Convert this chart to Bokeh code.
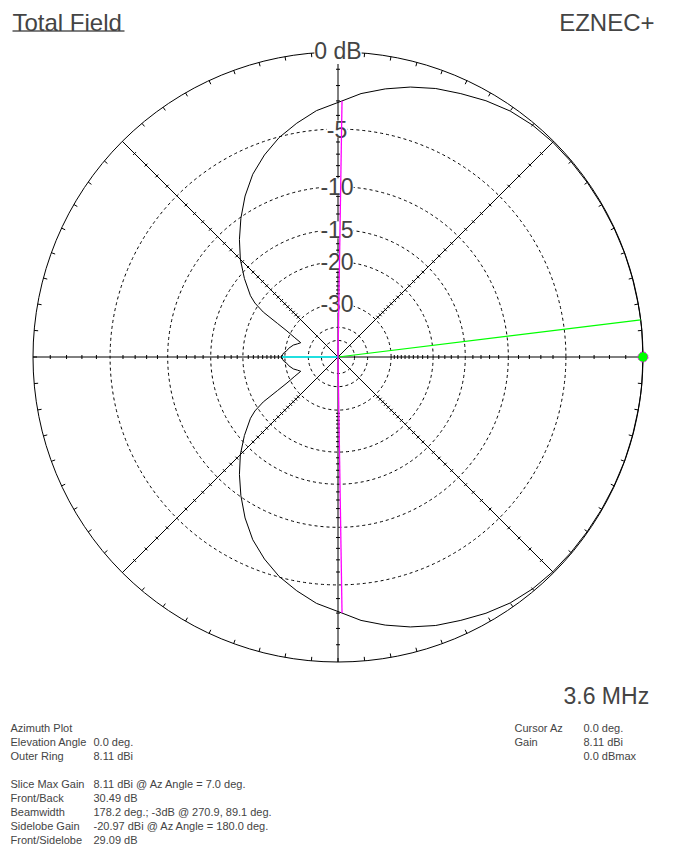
import numpy as np
from bokeh.plotting import figure
from bokeh.models import Range1d, Label
from bokeh.embed import file_html
from bokeh.resources import INLINE

# ---- azimuth pattern, total field, elevation 0 deg (gain in dBi) ----
az_deg = [0, 5, 7, 10, 15, 20, 25, 30, 35, 40, 45, 50, 55, 60, 65, 70, 75, 80, 85, 89.1,
          95, 100, 105, 110, 115, 120, 125, 130, 135, 140, 145, 147, 149, 151, 153, 156,
          159, 162, 165, 170, 173, 175, 177, 180,
          183, 185, 187, 190, 195, 198, 201, 204, 207, 209, 211, 213, 215, 220, 225, 230,
          235, 240, 245, 250, 255, 260, 265, 270.9, 275, 280, 285, 290, 295, 300, 305, 310,
          315, 320, 325, 330, 335, 340, 345, 350, 353, 355]
gain_dbi = [8.11, 8.11, 8.11, 8.10, 8.10, 8.10, 8.09, 8.08, 8.07, 8.06, 8.04, 7.98, 7.84, 7.59,
            7.28, 6.99, 6.61, 6.16, 5.66, 5.11,
            4.51, 3.81, 3.06, 2.11, 1.01, -0.39, -1.99, -3.69, -5.49, -7.59, -9.89, -11.19,
            -13.39, -17.39, -20.59, -23.89, -26.79, -25.69, -24.29, -22.90, -22.38, -21.66,
            -21.21, -20.97,
            -21.21, -21.66, -22.38, -22.90, -24.29, -25.69, -26.79, -23.89, -20.59, -17.39,
            -13.39, -11.19, -9.89, -7.59, -5.49, -3.69, -1.99, -0.39, 1.01, 2.11, 3.06, 3.81,
            4.51, 5.11, 5.66, 6.16, 6.61, 6.99, 7.28, 7.59, 7.84, 7.98, 8.04, 8.06, 8.07, 8.08,
            8.09, 8.10, 8.10, 8.10, 8.11, 8.11]

outer_ring_dbi = 8.11
max_gain_az = 7.0
max_gain_dbi = 8.11
bw_az = [89.1, 270.9]
bw_gain_dbi = [5.11, 5.11]
sidelobe_az = 180.0
sidelobe_dbi = -20.97
cursor_az = 0.0
cursor_dbi = 8.11

ring_db = [-5, -10, -15, -20, -30, -40, -50]
ring_labels = {-5: "-5", -10: "-10", -15: "-15", -20: "-20", -30: "-30"}
tick_db = [d for d in range(-1, -30, -1) if d not in ring_db]
rim_tick_deg = list(range(0, 360, 5))

left_rows = [("Azimuth Plot", ""), ("Elevation Angle", "0.0 deg."), ("Outer Ring", "8.11 dBi"),
             None,
             ("Slice Max Gain", "8.11 dBi @ Az Angle = 7.0 deg."), ("Front/Back", "30.49 dB"),
             ("Beamwidth", "178.2 deg.; -3dB @ 270.9, 89.1 deg."),
             ("Sidelobe Gain", "-20.97 dBi @ Az Angle = 180.0 deg."),
             ("Front/Sidelobe", "29.09 dB")]
right_rows = [("Cursor Az", "0.0 deg."), ("Gain", "8.11 dBi"), ("", "0.0 dBmax")]

# ---- geometry (1 data unit = 1 screen pixel, origin at plot centre) ----
W, H = 676, 864
CX, CY = 337.5, 356.5
R = 305.0
FONT = "Liberation Sans"


def radius(rel_db):
    """ARRL log-periodic radial scale: 2 dB per step of 0.89."""
    return R * 0.89 ** (-np.asarray(rel_db, dtype=float) / 2.0)


def polar(az, rel_db):
    th = np.radians(np.asarray(az, dtype=float))
    r = radius(rel_db)
    return r * np.cos(th), r * np.sin(th)


def sx(x):
    return x - CX


def sy(y):
    return CY - y


p = figure(width=W, height=H, x_range=Range1d(-CX, W - CX), y_range=Range1d(-(H - CY), CY),
           output_backend="svg", toolbar_location=None, min_border=0,
           x_axis_type=None, y_axis_type=None)
p.outline_line_color = None
p.background_fill_color = "white"
p.border_fill_color = "white"

# dashed dB rings and solid outer ring
rr = radius(ring_db)
p.circle(x=[0] * len(rr), y=[0] * len(rr), radius=list(rr), fill_color=None,
         line_color="black", line_width=1, line_dash="3 3")
p.circle(x=[0], y=[0], radius=R, fill_color=None, line_color="black", line_width=1)

# axis and diagonal spokes
spokes = np.radians([0, 45, 90, 135])
p.segment(x0=list(-R * np.cos(spokes)), y0=list(-R * np.sin(spokes)),
          x1=list(R * np.cos(spokes)), y1=list(R * np.sin(spokes)),
          line_color="black", line_width=1)

# 1 dB ticks on each spoke
tx0, ty0, tx1, ty1 = [], [], [], []
for a in range(0, 360, 45):
    th = np.radians(a)
    for d in tick_db:
        r = float(radius(d))
        cx, cy = r * np.cos(th), r * np.sin(th)
        px, py = -np.sin(th) * 2.0, np.cos(th) * 2.0
        tx0.append(cx - px); ty0.append(cy - py)
        tx1.append(cx + px); ty1.append(cy + py)
p.segment(x0=tx0, y0=ty0, x1=tx1, y1=ty1, line_color="black", line_width=1)

# 5 degree ticks on the outer ring
th = np.radians(rim_tick_deg)
p.segment(x0=list(R * np.cos(th)), y0=list(R * np.sin(th)),
          x1=list((R - 4) * np.cos(th)), y1=list((R - 4) * np.sin(th)),
          line_color="black", line_width=1)

# pattern trace
rel = np.asarray(gain_dbi) - outer_ring_dbi
px_, py_ = polar(az_deg + [az_deg[0]], list(rel) + [rel[0]])
p.line(x=list(px_), y=list(py_), line_color="black", line_width=1)

# max gain (green), sidelobe (cyan)
gx, gy = polar([max_gain_az], [max_gain_dbi - outer_ring_dbi])
p.segment(x0=[0], y0=[0], x1=list(gx), y1=list(gy), line_color="#00ff00", line_width=1.2)
cxs, cys = polar([sidelobe_az], [sidelobe_dbi - outer_ring_dbi])
p.segment(x0=[0], y0=[0], x1=list(cxs), y1=list(cys), line_color="#00ffff", line_width=1.6)

# ring labels with white boxes
labels = [Label(x=0, y=R + 1, text="0 dB", text_font=FONT, text_font_size="23px",
                text_align="center", text_baseline="middle", background_fill_color="white")]
for d, t in ring_labels.items():
    labels.append(Label(x=-1, y=float(radius(d)), text=t, text_font=FONT,
                        text_font_size="23px", text_align="center", text_baseline="middle",
                        background_fill_color="white"))
for lb in labels:
    p.add_layout(lb)

# -3 dB beamwidth markers (magenta), drawn above the labels
bx, by = polar(bw_az, np.asarray(bw_gain_dbi) - outer_ring_dbi)
mag = p.segment(x0=[0, 0], y0=[0, 0], x1=list(bx), y1=list(by),
                line_color="#ff00ff", line_width=1.3)
mag.level = "overlay"

# cursor dot
kx, ky = polar([cursor_az], [cursor_dbi - outer_ring_dbi])
dot = p.scatter(x=list(kx), y=list(ky), size=10, marker="circle", fill_color="#00ff00",
                line_color="#ff00ff", line_width=1, line_dash="2 2")
dot.level = "overlay"

# header and footer texts
p.add_layout(Label(x=sx(12), y=sy(22), text="Total Field", text_font=FONT,
                   text_font_size="24px", text_baseline="alphabetic"))
p.segment(x0=[sx(12)], y0=[sy(30.5)], x1=[sx(124)], y1=[sy(30.5)], line_color="black",
          line_width=1)
p.add_layout(Label(x=sx(654), y=sy(22), text="EZNEC+", text_font=FONT,
                   text_font_size="24px", text_align="right", text_baseline="alphabetic"))
p.add_layout(Label(x=sx(563), y=sy(695), text="3.6 MHz", text_font=FONT,
                   text_font_size="23px", text_baseline="alphabetic"))

y = 727
for row in left_rows:
    if row is not None:
        name, val = row
        p.add_layout(Label(x=sx(10), y=sy(y), text=name, text_font=FONT,
                           text_font_size="11px", text_baseline="alphabetic"))
        if val:
            p.add_layout(Label(x=sx(93), y=sy(y), text=val, text_font=FONT,
                               text_font_size="11px", text_baseline="alphabetic"))
    y += 14

y = 727
for name, val in right_rows:
    if name:
        p.add_layout(Label(x=sx(514), y=sy(y), text=name, text_font=FONT,
                           text_font_size="11px", text_baseline="alphabetic"))
    p.add_layout(Label(x=sx(583), y=sy(y), text=val, text_font=FONT,
                       text_font_size="11px", text_baseline="alphabetic"))
    y += 14

open("out.html", "w").write(file_html(p, INLINE))
